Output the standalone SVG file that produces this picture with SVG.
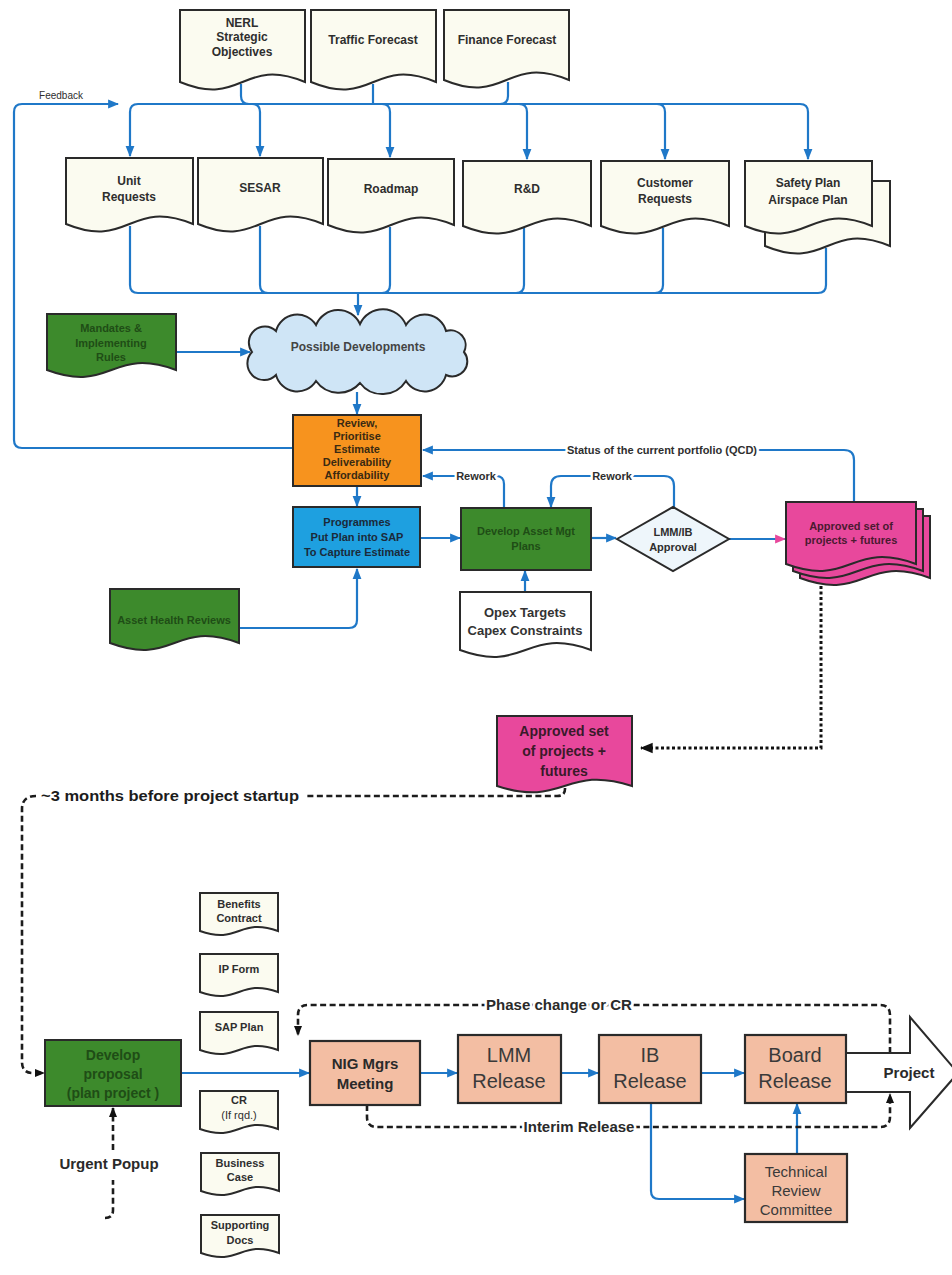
<svg xmlns="http://www.w3.org/2000/svg" width="952" height="1275" viewBox="0 0 952 1275">
<defs>
<style>
.doc{fill:#fbfbf0;stroke:#2a2a2a;stroke-width:2}
.grn{fill:#3d8a2c;stroke:#2a2a2a;stroke-width:2}
.pnk{fill:#e8489c;stroke:#2a2a2a;stroke-width:2}
.sal{fill:#f3bea3;stroke:#2a2a2a;stroke-width:2.2}
.bl{fill:none;stroke:#1f78c8;stroke-width:2.2}
.dsh{fill:none;stroke:#1c1c1c;stroke-width:2.6;stroke-dasharray:6 3.5}
.dot{fill:none;stroke:#111;stroke-width:3;stroke-dasharray:3 2.5}
text{font-family:"Liberation Sans",Arial,sans-serif;fill:#2e2e2e;text-anchor:middle}
.t12{font-size:12px;font-weight:bold}
.t11{font-size:11px;font-weight:bold}
.tg{font-size:11px;font-weight:bold;fill:#1f4d16}
.big{font-size:20px;fill:#3a3a3a}
.halo{stroke:#fff;stroke-width:5;paint-order:stroke;stroke-linejoin:round}
</style>
<marker id="ab" viewBox="0 0 10 10" refX="9" refY="5" markerWidth="11" markerHeight="11" markerUnits="userSpaceOnUse" orient="auto"><path d="M0,1 L10,5 L0,9 z" fill="#1f78c8"/></marker>
<marker id="ap" viewBox="0 0 10 10" refX="9" refY="5" markerWidth="11" markerHeight="11" markerUnits="userSpaceOnUse" orient="auto"><path d="M0,1 L10,5 L0,9 z" fill="#e8489c"/></marker>
<marker id="ak" viewBox="0 0 10 10" refX="9" refY="5" markerWidth="13" markerHeight="13" markerUnits="userSpaceOnUse" orient="auto"><path d="M0,1 L10,5 L0,9 z" fill="#111"/></marker>
<marker id="ak2" viewBox="0 0 10 10" refX="9" refY="5" markerWidth="10" markerHeight="10" markerUnits="userSpaceOnUse" orient="auto"><path d="M0,1 L10,5 L0,9 z" fill="#111"/></marker>
</defs>
<rect width="952" height="1275" fill="#ffffff"/>

<g id="connectors">
<path class="bl" d="M241,84 V96 Q241,104 249,104"/>
<path class="bl" d="M373,84 V104"/>
<path class="bl" d="M508,82 V96 Q508,104 500,104"/>
<path class="bl" d="M138,104 H800"/>
<path class="bl" d="M138,104 Q130,104 130,112 V156" marker-end="url(#ab)"/>
<path class="bl" d="M252,104 Q260,104 260,112 V156" marker-end="url(#ab)"/>
<path class="bl" d="M382,104 Q390,104 390,112 V157" marker-end="url(#ab)"/>
<path class="bl" d="M519,104 Q527,104 527,112 V159" marker-end="url(#ab)"/>
<path class="bl" d="M657,104 Q665,104 665,112 V159" marker-end="url(#ab)"/>
<path class="bl" d="M800,104 Q808,104 808,112 V159" marker-end="url(#ab)"/>
<path class="bl" d="M293,448 H22 Q14,448 14,440 V112 Q14,104 22,104 H118" marker-end="url(#ab)"/>
<path class="bl" d="M130,226 V285 Q130,293 138,293 H818 Q826,293 826,285 V248"/>
<path class="bl" d="M260,226 V285 Q260,293 268,293"/>
<path class="bl" d="M390,227 V285 Q390,293 382,293"/>
<path class="bl" d="M524,228 V285 Q524,293 516,293"/>
<path class="bl" d="M663,228 V285 Q663,293 655,293"/>
<path class="bl" d="M358,293 V315" marker-end="url(#ab)"/>
<path class="bl" d="M176,352 H250" marker-end="url(#ab)"/>
<path class="bl" d="M357,392 V414" marker-end="url(#ab)"/>
<path class="bl" d="M357,486 V506" marker-end="url(#ab)"/>
<path class="bl" d="M239,628 H349 Q357,628 357,620 V569" marker-end="url(#ab)"/>
<path class="bl" d="M420,538 H460" marker-end="url(#ab)"/>
<path class="bl" d="M591,538 H616" marker-end="url(#ab)"/>
<path class="bl" d="M729,539 H785" marker-end="url(#ap)"/>
<path class="bl" d="M525,592 V571" marker-end="url(#ab)"/>
<path class="bl" d="M854,502 V460 Q854,450 844,450 H423" marker-end="url(#ab)"/>
<path class="bl" d="M504,508 V484 Q504,476 496,476 H423" marker-end="url(#ab)"/>
<path class="bl" d="M674,507 V486 Q674,476 664,476 H561 Q551,476 551,486 V507" marker-end="url(#ab)"/>
<path class="dot" d="M821,586 V748 H641" marker-end="url(#ak)"/>
<path class="dsh" d="M565,788 V789 Q565,796 557,796 H305"/>
<path class="dsh" d="M36,796 Q22,796 22,809 V1062 Q22,1073 33,1073 H44" marker-end="url(#ak2)"/>
<path class="dsh" d="M105,1218 Q113,1218 113,1210 V1180"/>
<path class="dsh" d="M113,1150 V1108" marker-end="url(#ak2)"/>
<path class="bl" d="M181,1073 H309" marker-end="url(#ab)"/>
<path class="bl" d="M420,1073 H457" marker-end="url(#ab)"/>
<path class="bl" d="M561,1073 H598" marker-end="url(#ab)"/>
<path class="bl" d="M701,1073 H744" marker-end="url(#ab)"/>
<path class="bl" d="M651,1103 V1191 Q651,1199 659,1199 H744" marker-end="url(#ab)"/>
<path class="bl" d="M797,1154 V1104" marker-end="url(#ab)"/>
<path class="dsh" d="M890,1053 V1015 Q890,1005 880,1005 H308 Q298,1005 298,1015 V1035" marker-end="url(#ak2)"/>
<path class="dsh" d="M367,1105 V1117 Q367,1127 377,1127 H880 Q890,1127 890,1117 V1094" marker-end="url(#ak2)"/>
<text class="halo" x="61" y="99" style="font-size:10px">Feedback</text>
<text class="t11 halo" x="662" y="454">Status of the current portfolio (QCD)</text>
<text class="t11 halo" x="476" y="480">Rework</text>
<text class="t11 halo" x="612" y="480">Rework</text>
<text class="halo" x="170" y="801" textLength="258" lengthAdjust="spacingAndGlyphs" style="font-size:15px;font-weight:bold;fill:#1c1c1c">~3 months before project startup</text>
<text class="halo" x="559" y="1010" style="font-size:15px;font-weight:bold;fill:#2a2a2a">Phase change or CR</text>
<text class="halo" x="579" y="1132" style="font-size:15px;font-weight:bold;fill:#2a2a2a">Interim Release</text>
<text class="halo" x="109" y="1169" style="font-size:15px;font-weight:bold;fill:#2a2a2a">Urgent Popup</text>
</g>

<g id="nerl"><path class="doc" d="M180,10 H305 V82 C242.5,56 242.5,108 180,82 Z"/>
<text class="t12" x="242" y="27">NERL</text><text class="t12" x="242" y="41">Strategic</text><text class="t12" x="242" y="56">Objectives</text></g>
<g id="traffic"><path class="doc" d="M311,10 H436 V82 C373.5,56 373.5,108 311,82 Z"/>
<text class="t12" x="373" y="44">Traffic Forecast</text></g>
<g id="finance"><path class="doc" d="M444,10 H569 V80 C506.5,54 506.5,106 444,80 Z"/>
<text class="t12" x="507" y="44">Finance Forecast</text></g>

<g id="unit"><path class="doc" d="M66,158 H193 V224 C129.5,198 129.5,250 66,224 Z"/>
<text class="t12" x="129" y="185">Unit</text><text class="t12" x="129" y="201">Requests</text></g>
<g id="sesar"><path class="doc" d="M198,158 H323 V224 C260.5,198 260.5,250 198,224 Z"/>
<text class="t12" x="260" y="192">SESAR</text></g>
<g id="roadmap"><path class="doc" d="M328,159 H454 V225 C391,199 391,251 328,225 Z"/>
<text class="t12" x="391" y="193">Roadmap</text></g>
<g id="rnd"><path class="doc" d="M463,161 H591 V226 C527,200 527,252 463,226 Z"/>
<text class="t12" x="527" y="193">R&amp;D</text></g>
<g id="customer"><path class="doc" d="M601,161 H729 V226 C665,200 665,252 601,226 Z"/>
<text class="t12" x="665" y="187">Customer</text><text class="t12" x="665" y="203">Requests</text></g>
<g id="safety"><path class="doc" d="M765,181 H890 V246 C827.5,220 827.5,272 765,246 Z"/>
<path class="doc" d="M745,161 H872 V226 C808.5,200 808.5,252 745,226 Z"/>
<text class="t12" x="808" y="187">Safety Plan</text><text class="t12" x="808" y="204">Airspace Plan</text></g>

<g id="mandates"><path class="grn" d="M47,314 H176 V370 C111.5,346 111.5,394 47,370 Z"/>
<text class="tg" x="111" y="332">Mandates &amp;</text><text class="tg" x="111" y="347">Implementing</text><text class="tg" x="111" y="361">Rules</text></g>

<g id="cloud"><path d="M252,352 A16,16 0 0 1 276,331 A22,22 0 0 1 316,325 A24,24 0 0 1 360,324 A25,25 0 0 1 406,325 A22,22 0 0 1 446,331 A15,15 0 0 1 464,352 A15,15 0 0 1 446,375 A22,22 0 0 1 406,381 A28,28 0 0 1 360,383 A28,28 0 0 1 316,381 A22,22 0 0 1 276,375 A16,16 0 0 1 252,352 Z" fill="#cfe5f6" stroke="#2a2a2a" stroke-width="2"/>
<text x="358" y="351" style="font-size:12px;font-weight:bold;fill:#444">Possible Developments</text></g>

<g id="review"><rect x="293" y="415" width="128" height="71" fill="#f7931e" stroke="#2a2a2a" stroke-width="2"/>
<text class="t11" x="357" y="427" style="fill:#3a2a12">Review,</text><text class="t11" x="357" y="440" style="fill:#3a2a12">Prioritise</text><text class="t11" x="357" y="453" style="fill:#3a2a12">Estimate</text><text class="t11" x="357" y="466" style="fill:#3a2a12">Deliverability</text><text class="t11" x="357" y="479" style="fill:#3a2a12">Affordability</text></g>

<g id="programmes"><rect x="293" y="507" width="127" height="60" fill="#1ea0e0" stroke="#2a2a2a" stroke-width="2"/>
<text class="t11" x="357" y="526" style="fill:#1b2a3a">Programmes</text><text class="t11" x="357" y="541" style="fill:#1b2a3a">Put Plan into SAP</text><text class="t11" x="357" y="556" style="fill:#1b2a3a">To Capture Estimate</text></g>

<g id="assethealth"><path class="grn" d="M110,589 H239 V643 C174.5,619 174.5,667 110,643 Z"/>
<text class="tg" x="174" y="624">Asset Health Reviews</text></g>

<g id="assetmgt"><rect class="grn" x="461" y="508" width="130" height="62"/>
<text class="tg" x="526" y="535">Develop Asset Mgt</text><text class="tg" x="526" y="550">Plans</text></g>

<g id="approval"><polygon points="617,539 673,507 729,539 673,571" fill="#eef6fb" stroke="#2a2a2a" stroke-width="2"/>
<text class="t11" x="673" y="536">LMM/IB</text><text class="t11" x="673" y="551">Approval</text></g>

<g id="opex"><path class="doc" d="M460,592 H591 V650 C525.5,626 525.5,674 460,650 Z" style="fill:#ffffff"/>
<text x="525" y="617" style="font-size:13px;font-weight:bold;fill:#333">Opex Targets</text><text x="525" y="635" style="font-size:13px;font-weight:bold;fill:#333">Capex Constraints</text></g>

<g id="approvedset"><path class="pnk" d="M800,516 H930 V578 C865,554 865,602 800,578 Z"/>
<path class="pnk" d="M793,509 H923 V571 C858,547 858,595 793,571 Z"/>
<path class="pnk" d="M786,502 H916 V564 C851,540 851,588 786,564 Z"/>
<text class="t11" x="851" y="530" style="fill:#4a1a30">Approved set of</text><text class="t11" x="851" y="544" style="fill:#4a1a30">projects + futures</text></g>

<g id="approvedset2"><path class="pnk" d="M497,716 H632 V786 C564.5,764 564.5,808 497,786 Z"/>
<text x="564" y="736" style="font-size:14px;font-weight:bold;fill:#3a1a2a">Approved set</text><text x="564" y="756" style="font-size:14px;font-weight:bold;fill:#3a1a2a">of projects  +</text><text x="564" y="776" style="font-size:14px;font-weight:bold;fill:#3a1a2a">futures</text></g>

<g id="developproposal"><rect class="grn" x="45" y="1040" width="136" height="66"/>
<text x="113" y="1060" style="font-size:14px;font-weight:bold;fill:#1f4d16">Develop</text><text x="113" y="1079" style="font-size:14px;font-weight:bold;fill:#1f4d16">proposal</text><text x="113" y="1098" style="font-size:14px;font-weight:bold;fill:#1f4d16">(plan project )</text></g>

<g id="benefits"><path class="doc" d="M200,893 H278 V931 C239,917 239,945 200,931 Z"/>
<text class="t11" x="239" y="908">Benefits</text><text class="t11" x="239" y="922">Contract</text></g>
<g id="ipform"><path class="doc" d="M200,954 H278 V992 C239,978 239,1006 200,992 Z"/>
<text class="t11" x="239" y="973">IP Form</text></g>
<g id="sapplan"><path class="doc" d="M200,1012 H278 V1050 C239,1036 239,1064 200,1050 Z"/>
<text class="t11" x="239" y="1031">SAP Plan</text></g>
<g id="cr"><path class="doc" d="M200,1091 H278 V1129 C239,1115 239,1143 200,1129 Z"/>
<text class="t11" x="239" y="1104">CR</text><text x="239" y="1119" style="font-size:11px">(If rqd.)</text></g>
<g id="business"><path class="doc" d="M201,1153 H279 V1191 C240,1177 240,1205 201,1191 Z"/>
<text class="t11" x="240" y="1167">Business</text><text class="t11" x="240" y="1181">Case</text></g>
<g id="supporting"><path class="doc" d="M201,1215 H279 V1253 C240,1239 240,1267 201,1253 Z"/>
<text class="t11" x="240" y="1229">Supporting</text><text class="t11" x="240" y="1244">Docs</text></g>

<g id="nig"><rect class="sal" x="310" y="1041" width="110" height="64"/>
<text x="365" y="1069" style="font-size:15px;font-weight:bold;fill:#2a2a2a">NIG Mgrs</text><text x="365" y="1089" style="font-size:15px;font-weight:bold;fill:#2a2a2a">Meeting</text></g>
<g id="lmm"><rect class="sal" x="458" y="1035" width="103" height="68"/>
<text class="big" x="509" y="1062">LMM</text><text class="big" x="509" y="1088">Release</text></g>
<g id="ib"><rect class="sal" x="599" y="1035" width="102" height="68"/>
<text class="big" x="650" y="1062">IB</text><text class="big" x="650" y="1088">Release</text></g>
<g id="board"><rect class="sal" x="745" y="1035" width="101" height="68"/>
<text class="big" x="795" y="1062">Board</text><text class="big" x="795" y="1088">Release</text></g>
<g id="trc"><rect class="sal" x="745" y="1154" width="102" height="68"/>
<text x="796" y="1177" style="font-size:15px;fill:#3a3a3a">Technical</text><text x="796" y="1196" style="font-size:15px;fill:#3a3a3a">Review</text><text x="796" y="1215" style="font-size:15px;fill:#3a3a3a">Committee</text></g>
<g id="project"><polygon points="846,1053 910,1053 910,1017 958,1073 910,1128 910,1092 846,1092" fill="#ffffff" stroke="#2a2a2a" stroke-width="2"/>
<text x="909" y="1078" style="font-size:15px;font-weight:bold;fill:#2a2a2a">Project</text></g>
</svg>
